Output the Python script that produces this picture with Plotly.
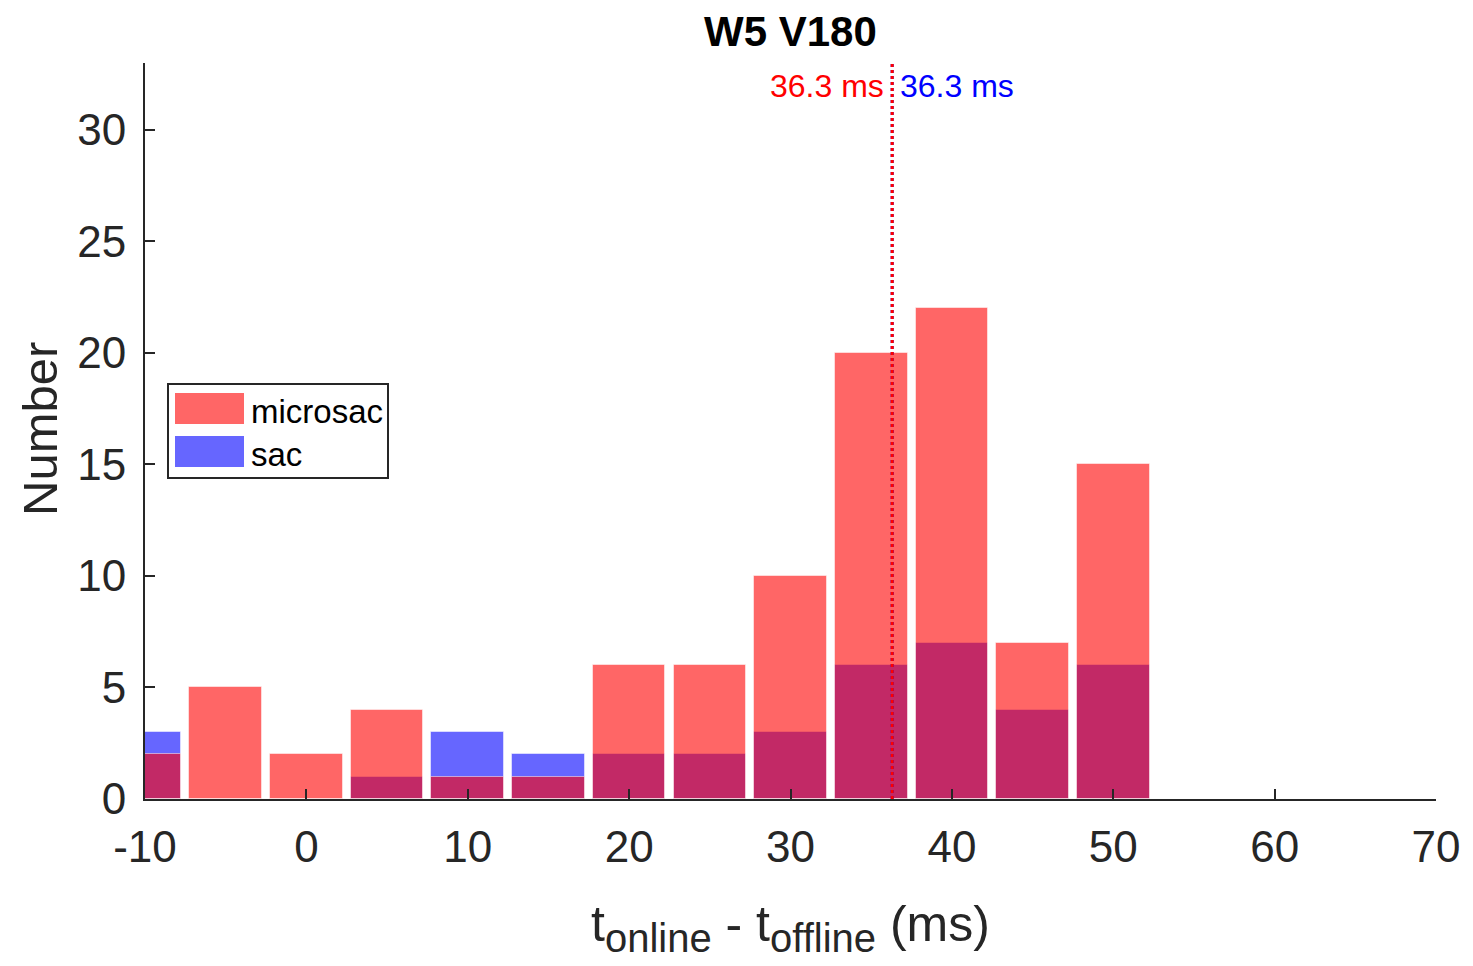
import plotly.graph_objects as go

# Histogram bin centres (ms) and counts per bin
bin_centers = [-10, -5, 0, 5, 10, 15, 20, 25, 30, 35, 40, 45, 50]
microsac_counts = [2, 5, 2, 4, 1, 1, 6, 6, 10, 20, 22, 7, 15]
sac_counts = [3, 0, 0, 1, 3, 2, 2, 2, 3, 6, 7, 4, 6]
series_names = ["microsac", "sac"]
median_microsac = 36.3
median_sac = 36.3
x_ticks = [-10, 0, 10, 20, 30, 40, 50, 60, 70]
x_tick_labels = ["-10", "0", "10", "20", "30", "40", "50", "60", "70"]
y_ticks = [0, 5, 10, 15, 20, 25, 30]

FONT = "Liberation Sans, Arial, Helvetica, sans-serif"
AXIS = "#262626"
RED = "rgba(255,0,0,0.6)"
BLUE = "rgba(0,0,255,0.6)"

# plot area geometry (pixels) used to place the hand-built legend
W, H = 1473, 966
ML, MR, MT, MB = 145, 37, 63, 167
PW, PH = W - ML - MR, H - MT - MB


def px(xp):
    return (xp - ML) / PW


def py(yp):
    return (H - MB - yp) / PH


fig = go.Figure()
fig.add_trace(go.Bar(x=bin_centers, y=sac_counts, width=4.5, name=series_names[1],
                     marker=dict(color=BLUE, line=dict(color="rgba(255,255,255,0.5)", width=1)),
                     showlegend=False))
fig.add_trace(go.Bar(x=bin_centers, y=microsac_counts, width=4.5, name=series_names[0],
                     marker=dict(color=RED, line=dict(color="rgba(255,255,255,0.5)", width=1)),
                     showlegend=False))

# median markers
fig.add_trace(go.Scatter(x=[median_sac, median_sac], y=[0, 33], mode="lines",
                         line=dict(color="blue", width=3, dash="dot"), showlegend=False,
                         hoverinfo="skip"))
fig.add_trace(go.Scatter(x=[median_microsac, median_microsac], y=[0, 33], mode="lines",
                         line=dict(color="red", width=3, dash="dot"), showlegend=False,
                         hoverinfo="skip"))

SUB = "<span style='font-size:40px'>{}</span>"
xlabel = ("t<sub>" + SUB.format("online") + "</sub> - t<sub>" + SUB.format("offline")
          + "</sub> (ms)")

annotations = [
    dict(x=median_microsac, y=py(86), xref="x", yref="paper", text=f"{median_microsac} ms",
         showarrow=False, xanchor="right", yanchor="middle", xshift=-6,
         font=dict(family=FONT, size=32, color="red")),
    dict(x=median_sac, y=py(86), xref="x", yref="paper", text=f"{median_sac} ms",
         showarrow=False, xanchor="left", yanchor="middle", xshift=6,
         font=dict(family=FONT, size=32, color="blue")),
    dict(x=px(249), y=py(411), xref="paper", yref="paper", text=series_names[0],
         showarrow=False, xanchor="left", yanchor="middle",
         font=dict(family=FONT, size=33, color="black")),
    dict(x=px(249), y=py(454), xref="paper", yref="paper", text=series_names[1],
         showarrow=False, xanchor="left", yanchor="middle",
         font=dict(family=FONT, size=33, color="black")),
    dict(x=0.5, y=py(31), xref="paper", yref="paper", text="<b>W5 V180</b>",
         showarrow=False, xanchor="center", yanchor="middle",
         font=dict(family=FONT, size=42, color="black")),
    dict(x=0.5, y=py(962), xref="paper", yref="paper", text=xlabel,
         showarrow=False, xanchor="center", yanchor="bottom",
         font=dict(family=FONT, size=50, color=AXIS)),
    dict(x=px(40), y=py(429), xref="paper", yref="paper", text="Number", textangle=-90,
         showarrow=False, xanchor="center", yanchor="middle",
         font=dict(family=FONT, size=49, color=AXIS)),
]

shapes = [
    dict(type="rect", xref="paper", yref="paper", x0=px(168), x1=px(388), y0=py(478), y1=py(384),
         line=dict(color=AXIS, width=2), fillcolor="white", layer="above"),
    dict(type="rect", xref="paper", yref="paper", x0=px(175), x1=px(244), y0=py(424), y1=py(393),
         line=dict(width=0), fillcolor=RED, layer="above"),
    dict(type="rect", xref="paper", yref="paper", x0=px(175), x1=px(244), y0=py(467), y1=py(436),
         line=dict(width=0), fillcolor=BLUE, layer="above"),
]

fig.update_layout(
    width=W, height=H,
    margin=dict(l=ML, r=MR, t=MT, b=MB, pad=0),
    paper_bgcolor="white", plot_bgcolor="white",
    barmode="overlay", bargap=0,
    showlegend=False,
    annotations=annotations,
    shapes=shapes,
    font=dict(family=FONT, color=AXIS),
)
fig.update_xaxes(range=[-10, 70], tickvals=x_ticks, ticktext=x_tick_labels,
                 ticks="inside", ticklen=10, tickwidth=1.5,
                 tickcolor=AXIS, showline=True, linecolor=AXIS, linewidth=2,
                 showgrid=False, zeroline=False, tickfont=dict(family=FONT, size=44, color=AXIS),
                 ticklabelstandoff=8)
fig.update_yaxes(range=[0, 33], tickvals=y_ticks, ticks="inside", ticklen=10, tickwidth=1.5,
                 tickcolor=AXIS, showline=True, linecolor=AXIS, linewidth=2,
                 showgrid=False, zeroline=False, tickfont=dict(family=FONT, size=44, color=AXIS),
                 ticklabelstandoff=8)

fig.write_html("out.html")
